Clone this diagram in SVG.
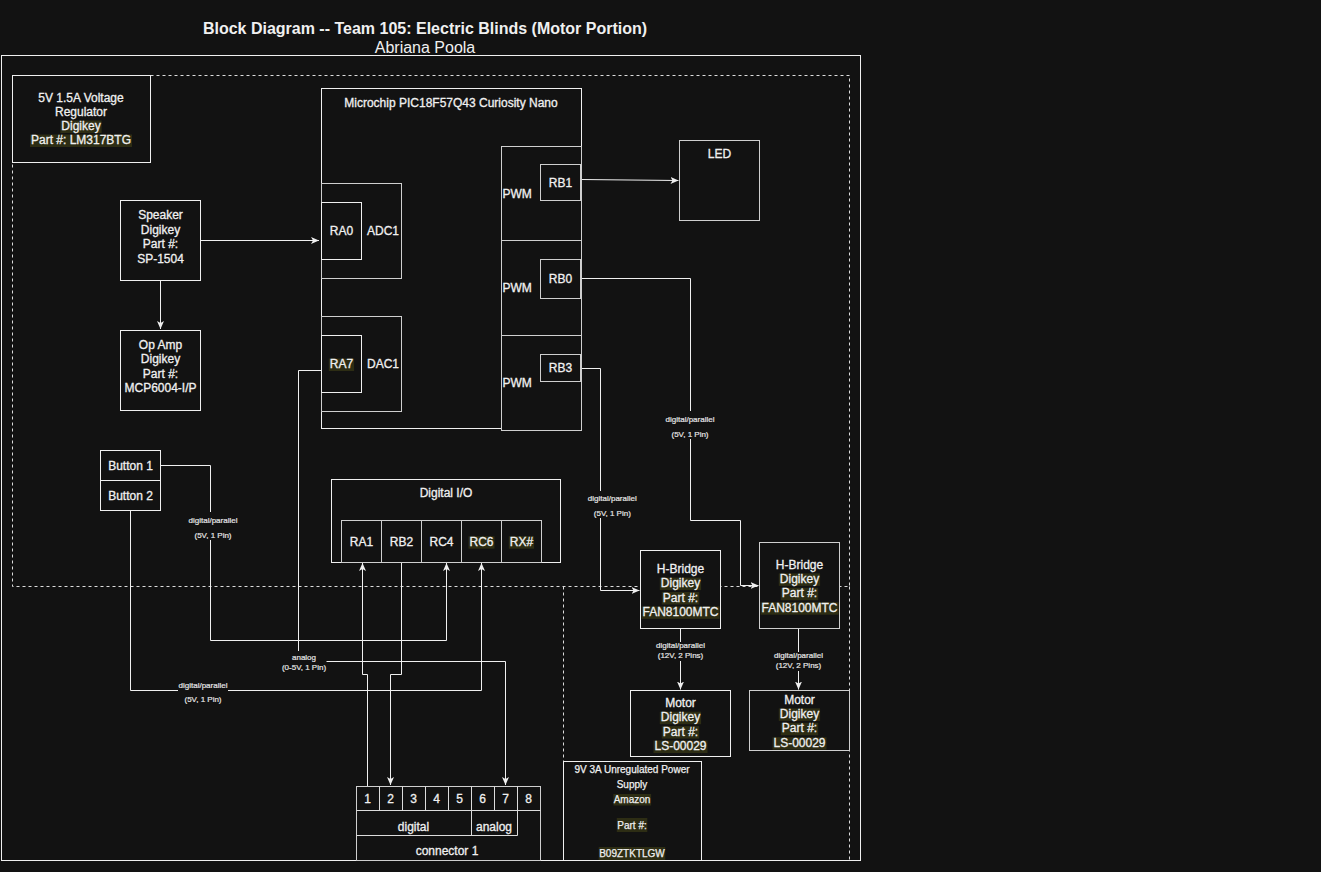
<svg xmlns="http://www.w3.org/2000/svg" width="1321" height="872" viewBox="0 0 1321 872">
<defs>
<style>
text{font-family:"Liberation Sans",Arial,Helvetica,sans-serif;font-size:12px;fill:#f0f0f0;stroke:#f0f0f0;stroke-width:0.3;text-anchor:middle}
.s{font-size:10px;stroke-width:0.25}
.e{font-size:8px;fill:#e6e6e6;stroke:#e6e6e6;stroke-width:0.2}
.st{text-anchor:start}
.nos{stroke:none}
.hl{fill:#2d2d14}
.box{fill:#121212;stroke:#f0f0f0;stroke-width:1}
.gb{fill:#121212;stroke:#cfcfcf;stroke-width:1}
.ln{fill:none;stroke:#f0f0f0;stroke-width:1}
.dash{fill:none;stroke:#dcdcdc;stroke-width:1;stroke-dasharray:3 3}
.lbg{fill:#121212}
</style>
<marker id="a" viewBox="0 0 8 7" refX="8" refY="3.5" markerWidth="8" markerHeight="7" markerUnits="userSpaceOnUse" orient="auto">
<path d="M0,0 L8,3.5 L0,7 L2,3.5 z" fill="#f0f0f0"/>
</marker>
</defs>
<rect x="0" y="0" width="1321" height="872" fill="#121212"/>

<g id="title">
<text class="nos" x="425" y="34" style="font-size:16px;font-weight:bold">Block Diagram -- Team 105: Electric Blinds (Motor Portion)</text>
<text class="nos" x="425" y="53" style="font-size:16px">Abriana Poola</text>
</g>

<g id="frames">
<rect x="1.5" y="55.5" width="859" height="805" fill="none" stroke="#f0f0f0"/>
<rect class="dash" x="12.5" y="75.5" width="837" height="511"/>
<path class="dash" d="M563.5,586.5 V860 M849.5,586.5 V860"/>
</g>

<g id="connectors">
<path class="ln" d="M200.5,240.5 H319" marker-end="url(#a)"/>
<path class="ln" d="M160.5,280.5 V329" marker-end="url(#a)"/>
<path class="ln" d="M581,179.5 L678.5,180.5" marker-end="url(#a)"/>
<path class="ln" d="M160.5,465.5 H210.5 V640.5 H446.5 V563" marker-end="url(#a)"/>
<path class="ln" d="M130.5,510.5 V690.5 H481.5 V563" marker-end="url(#a)"/>
<path class="ln" d="M321.5,370.5 H298.5 V661.5 H505.5 V785" marker-end="url(#a)"/>
<path class="ln" d="M367.5,786 V674.5 H362.5 V563" marker-end="url(#a)"/>
<path class="ln" d="M401.5,562.5 V674.5 H390.5 V785" marker-end="url(#a)"/>
<path class="ln" d="M581,368.5 H600.5 V590.5 H639.5" marker-end="url(#a)"/>
<path class="ln" d="M581,278.5 H690.5 V520.5 H740.5 V585.5 H758.5" marker-end="url(#a)"/>
<path class="ln" d="M680.5,628.5 V689.5" marker-end="url(#a)"/>
<path class="ln" d="M798.5,628.5 V689.5" marker-end="url(#a)"/>
<rect class="lbg" x="188.5" y="512" width="50" height="28"/>
<text class="e" x="213" y="522.7">digital/parallel</text>
<text class="e" x="213" y="537.7">(5V, 1 Pin)</text>
<rect class="lbg" x="178" y="681" width="50" height="24"/>
<text class="e" x="203" y="687.7">digital/parallel</text>
<text class="e" x="203" y="702.3">(5V, 1 Pin)</text>
<rect class="lbg" x="281.5" y="651" width="45" height="22"/>
<text class="e" x="304" y="660">analog</text>
<text class="e" x="304" y="670">(0-5V, 1 Pin)</text>
<rect class="lbg" x="587.5" y="491" width="50" height="27"/>
<text class="e" x="612.3" y="500.7">digital/parallel</text>
<text class="e" x="612.3" y="515.7">(5V, 1 Pin)</text>
<rect class="lbg" x="665" y="411" width="50" height="28"/>
<text class="e" x="690" y="421.7">digital/parallel</text>
<text class="e" x="690" y="436.7">(5V, 1 Pin)</text>
<rect class="lbg" x="655.5" y="642" width="50" height="19"/>
<text class="e" x="680.5" y="648.3">digital/parallel</text>
<text class="e" x="680.5" y="658.3">(12V, 2 Pins)</text>
<rect class="lbg" x="773.5" y="652" width="50" height="19"/>
<text class="e" x="798.5" y="658.3">digital/parallel</text>
<text class="e" x="798.5" y="668.3">(12V, 2 Pins)</text>
</g>

<g id="voltage-regulator">
<rect class="box" x="12.5" y="75.5" width="138" height="87"/>
<rect class="hl" x="60.3" y="120.5" width="41.3" height="12.5"/>
<rect class="hl" x="30" y="134.5" width="102" height="12.5"/>
<text x="81" y="102">5V 1.5A Voltage</text>
<text x="81" y="116">Regulator</text>
<text x="81" y="130">Digikey</text>
<text x="81" y="144">Part #: LM317BTG</text>
</g>

<g id="speaker">
<rect class="box" x="120.5" y="200.5" width="80" height="80"/>
<text x="160.5" y="219">Speaker</text>
<text x="160.5" y="233.5">Digikey</text>
<text x="160.5" y="248">Part #:</text>
<text x="160.5" y="262.5">SP-1504</text>
</g>

<g id="op-amp">
<rect class="box" x="120.5" y="330.5" width="80" height="80"/>
<text x="160.5" y="348.5">Op Amp</text>
<text x="160.5" y="363">Digikey</text>
<text x="160.5" y="377.5">Part #:</text>
<text x="160.5" y="392">MCP6004-I/P</text>
</g>

<g id="microchip">
<rect class="box" x="321.5" y="88.5" width="260" height="340"/>
<text x="451" y="106.5">Microchip PIC18F57Q43 Curiosity Nano</text>
<g id="adc1">
<rect class="gb" x="321.5" y="183.5" width="80" height="95"/>
<rect class="box" x="321.5" y="202.5" width="40" height="57"/>
<text x="341.5" y="235">RA0</text>
<text x="383" y="235">ADC1</text>
</g>
<g id="dac1">
<rect class="gb" x="321.5" y="316.5" width="80" height="95"/>
<rect class="box" x="321.5" y="335.5" width="40" height="57"/>
<rect class="hl" x="328.8" y="358.5" width="25.3" height="12.5"/>
<text x="341.5" y="368">RA7</text>
<text x="383" y="368">DAC1</text>
</g>
<g id="pwm-rb1">
<rect class="gb" x="501.5" y="146.5" width="80" height="94"/>
<rect class="gb" x="540.5" y="164.5" width="40" height="36"/>
<text class="st" x="502.5" y="198.3">PWM</text>
<text x="560.5" y="187.3">RB1</text>
</g>
<g id="pwm-rb0">
<rect class="gb" x="501.5" y="240.5" width="80" height="95"/>
<rect class="gb" x="540.5" y="259.5" width="40" height="39"/>
<text class="st" x="502.5" y="292.3">PWM</text>
<text x="560.5" y="283.3">RB0</text>
</g>
<g id="pwm-rb3">
<rect class="gb" x="501.5" y="335.5" width="80" height="95"/>
<rect class="gb" x="540.5" y="354.5" width="40" height="27"/>
<text class="st" x="502.5" y="387.3">PWM</text>
<text x="560.5" y="372.3">RB3</text>
</g>
</g>

<g id="led">
<rect class="gb" x="679.5" y="140.5" width="80" height="80"/>
<text x="719.5" y="158.3">LED</text>
</g>

<g id="button1">
<rect class="box" x="100.5" y="450.5" width="60" height="30"/>
<text x="130.5" y="470">Button 1</text>
</g>
<g id="button2">
<rect class="box" x="100.5" y="480.5" width="60" height="30"/>
<text x="130.5" y="500">Button 2</text>
</g>

<g id="digital-io">
<rect class="box" x="331.5" y="479.5" width="229" height="83"/>
<text x="446" y="497.3">Digital I/O</text>
<rect class="gb" x="341.5" y="520.5" width="40" height="42"/>
<rect class="gb" x="381.5" y="520.5" width="40" height="42"/>
<rect class="gb" x="421.5" y="520.5" width="40" height="42"/>
<rect class="gb" x="461.5" y="520.5" width="40" height="42"/>
<rect class="gb" x="501.5" y="520.5" width="40" height="42"/>
<rect class="hl" x="468.5" y="536.2" width="26" height="12.5"/>
<rect class="hl" x="508.8" y="536.2" width="25.3" height="12.5"/>
<text x="361.5" y="545.7">RA1</text>
<text x="401.5" y="545.7">RB2</text>
<text x="441.5" y="545.7">RC4</text>
<text x="481.5" y="545.7">RC6</text>
<text x="521.5" y="545.7">RX#</text>
</g>

<g id="h-bridge-1">
<rect class="box" x="640.5" y="550.5" width="80" height="78"/>
<rect class="hl" x="659.8" y="577.6" width="41.3" height="12.5"/>
<rect class="hl" x="661.8" y="592" width="37.4" height="12.5"/>
<rect class="hl" x="641.6" y="606.4" width="78" height="12.5"/>
<text x="680.5" y="572.7">H-Bridge</text>
<text x="680.5" y="587.1">Digikey</text>
<text x="680.5" y="601.5">Part #:</text>
<text x="680.5" y="615.9">FAN8100MTC</text>
</g>

<g id="h-bridge-2">
<rect class="gb" x="759.5" y="542.5" width="80" height="86"/>
<rect class="hl" x="778.8" y="573.4" width="41.3" height="12.5"/>
<rect class="hl" x="780.8" y="587.8" width="37.4" height="12.5"/>
<rect class="hl" x="760.6" y="602.2" width="78" height="12.5"/>
<text x="799.5" y="568.5">H-Bridge</text>
<text x="799.5" y="582.9">Digikey</text>
<text x="799.5" y="597.3">Part #:</text>
<text x="799.5" y="611.7">FAN8100MTC</text>
</g>

<g id="motor-1">
<rect class="box" x="630.5" y="690.5" width="100" height="66"/>
<rect class="hl" x="659.8" y="711.7" width="41.3" height="12.5"/>
<rect class="hl" x="661.8" y="726.1" width="37.4" height="12.5"/>
<rect class="hl" x="653.5" y="740.5" width="54" height="12.5"/>
<text x="680.5" y="706.8">Motor</text>
<text x="680.5" y="721.2">Digikey</text>
<text x="680.5" y="735.6">Part #:</text>
<text x="680.5" y="750">LS-00029</text>
</g>

<g id="motor-2">
<rect class="gb" x="749.5" y="690.5" width="100" height="60"/>
<rect class="hl" x="778.8" y="708.4" width="41.3" height="12.5"/>
<rect class="hl" x="780.8" y="722.8" width="37.4" height="12.5"/>
<rect class="hl" x="772.5" y="737.2" width="54" height="12.5"/>
<text x="799.5" y="703.5">Motor</text>
<text x="799.5" y="717.9">Digikey</text>
<text x="799.5" y="732.3">Part #:</text>
<text x="799.5" y="746.7">LS-00029</text>
</g>

<g id="power-supply">
<rect class="box" x="563.5" y="761.5" width="138" height="99"/>
<rect class="hl" x="613.4" y="794" width="37.7" height="11.5"/>
<rect class="hl" x="616.8" y="818" width="30.5" height="14"/>
<rect class="hl" x="598.7" y="847" width="66.6" height="13"/>
<text class="s" x="632" y="772.5">9V 3A Unregulated Power</text>
<text class="s" x="632" y="787.5">Supply</text>
<text class="s" x="632" y="802.7">Amazon</text>
<text class="s" x="632" y="829.3">Part #:</text>
<text class="s" x="632" y="857.3">B09ZTKTLGW</text>
</g>

<g id="connector-1">
<rect class="gb" x="356.5" y="786.5" width="184" height="74"/>
<path fill="none" stroke="#dcdcdc" d="M356.5,810.5 H540.5 M379.5,786.5 V810.5 M402.5,786.5 V810.5 M425.5,786.5 V810.5 M448.5,786.5 V810.5 M471.5,786.5 V835.5 M494.5,786.5 V810.5 M517.5,786.5 V835.5 M356.5,835.5 H517.5"/>
<text x="367.5" y="803.3">1</text>
<text x="390.5" y="803.3">2</text>
<text x="413.5" y="803.3">3</text>
<text x="436.5" y="803.3">4</text>
<text x="459.5" y="803.3">5</text>
<text x="482.5" y="803.3">6</text>
<text x="505.5" y="803.3">7</text>
<text x="528.5" y="803.3">8</text>
<text x="413.5" y="830.7">digital</text>
<text x="494" y="830.7">analog</text>
<text x="447" y="855">connector 1</text>
</g>
</svg>
